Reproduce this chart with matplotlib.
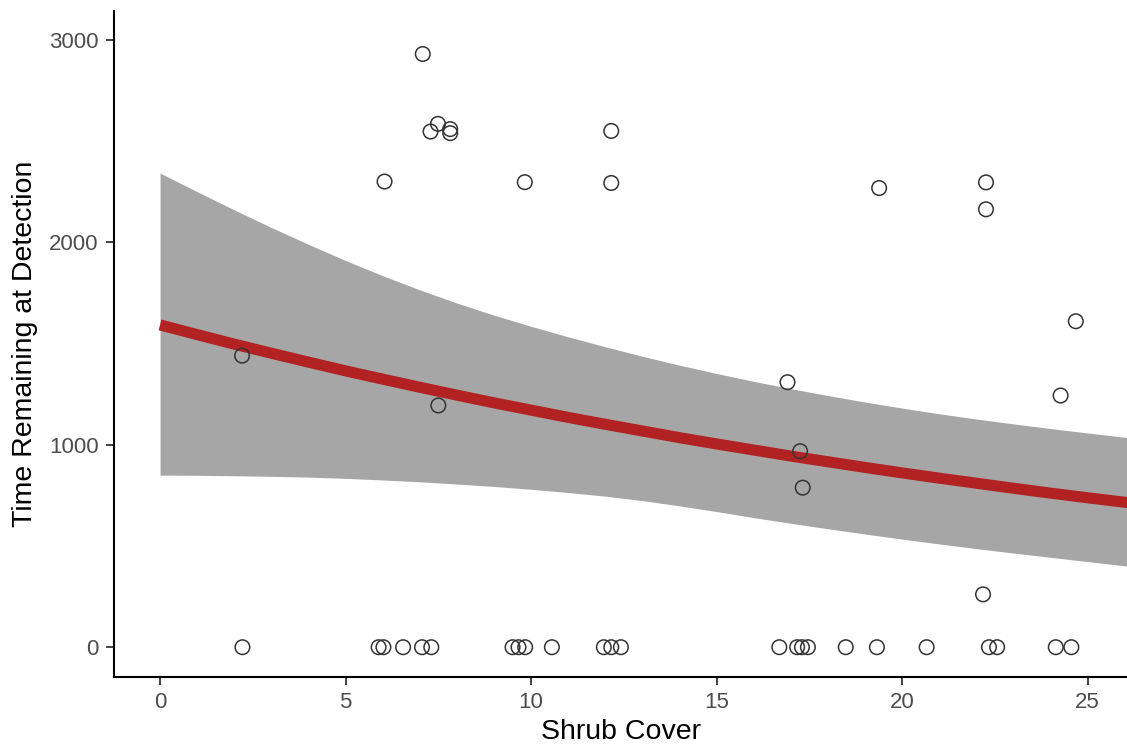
import matplotlib
matplotlib.use("Agg")
import matplotlib.pyplot as plt

# observed points (shrub cover, time remaining at detection)
shrub = [7.08, 7.49, 7.29, 7.82, 7.82, 12.16, 9.83, 12.16, 6.05,
         19.38, 22.26, 22.26, 24.68, 2.21, 7.50, 16.91, 24.27, 17.25, 17.32, 22.18,
         2.22, 5.89, 6.02, 6.55, 7.06, 7.31, 9.50, 9.66, 9.84, 10.56,
         11.96, 12.16, 12.42, 16.69, 17.17, 17.30, 17.46, 18.48, 19.32, 20.66,
         22.34, 22.56, 24.14, 24.56]
time_left = [2930, 2585, 2547, 2559, 2539, 2550, 2297, 2293, 2300,
             2268, 2296, 2163, 1610, 1440, 1194, 1309, 1243, 968, 788, 261,
             0, 0, 0, 0, 0, 0, 0, 0, 0, 0,
             0, 0, 0, 0, 0, 0, 0, 0, 0, 0,
             0, 0, 0, 0]

# fitted curve and confidence band
fit_x = list(range(27)) + [26.1]
fit_y = [1592, 1544, 1497, 1452, 1408, 1365, 1324, 1284, 1245, 1207, 1171,
         1135, 1101, 1068, 1035, 1004, 974, 944, 916, 888, 861,
         835, 810, 785, 761, 738, 716, 714]
fit_hi = [2342, 2250, 2160, 2073, 1990, 1910, 1835, 1765, 1700, 1640, 1585,
          1533, 1484, 1437, 1393, 1352, 1313, 1277, 1243, 1211, 1181,
          1153, 1127, 1103, 1080, 1058, 1037, 1035]
fit_lo = [850, 849, 847, 844, 840, 834, 826, 817, 806, 794, 780,
          764, 746, 724, 698, 670, 640, 612, 585, 559, 534,
          510, 487, 465, 444, 423, 402, 400]

plt.rcParams["font.family"] = ["Liberation Sans", "DejaVu Sans"]

fig = plt.figure(figsize=(11.27, 7.44), dpi=100)
ax = fig.add_axes([0.1012, 0.0901, 0.8988, 0.895])

ax.fill_between(fit_x, fit_lo, fit_hi, color="#a6a6a6", linewidth=0, zorder=1)
ax.plot(fit_x, fit_y, color="#b22222", linewidth=8, solid_capstyle="butt", zorder=2)
ax.scatter(shrub, time_left, s=110, facecolors="none", edgecolors="#333333",
           linewidths=1.1, zorder=3)

ax.set_xlim(-1.24, 26.06)
ax.set_ylim(-147, 3142)
ax.set_xticks([0, 5, 10, 15, 20, 25])
ax.set_yticks([0, 1000, 2000, 3000])

for s in ("top", "right"):
    ax.spines[s].set_visible(False)
for s in ("left", "bottom"):
    ax.spines[s].set_linewidth(1.5)
    ax.spines[s].set_color("black")
ax.tick_params(length=6, width=1.3, color="#333333", labelcolor="#4d4d4d",
               labelsize=16, pad=5)

ax.set_xlabel("Shrub Cover", fontsize=20.5, color="black", labelpad=4)
ax.set_ylabel("Time Remaining at Detection", fontsize=20.5, color="black", labelpad=8)

fig.savefig("out.png", dpi=100)
